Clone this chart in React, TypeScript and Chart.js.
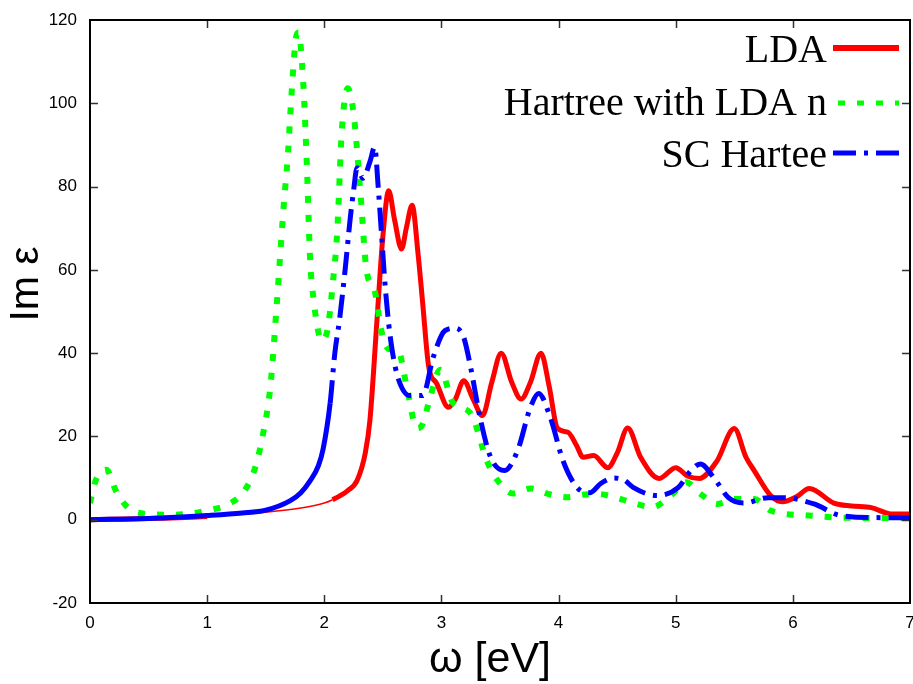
import React, { useEffect, useRef } from 'react';
import { Chart, registerables } from 'chart.js';

Chart.register(...registerables);

// ---- data ----
const ldaX = [0, 0.5, 1.0, 1.5, 1.8, 2.0, 2.07, 2.2, 2.28, 2.35, 2.39, 2.45, 2.5, 2.55, 2.6, 2.66, 2.7, 2.75, 2.8, 2.84, 2.89, 2.96, 3.06, 3.12, 3.19, 3.27, 3.35, 3.43, 3.51, 3.6, 3.68, 3.76, 3.85, 3.92, 3.99, 4.08, 4.15, 4.21, 4.3, 4.42, 4.5, 4.59, 4.7, 4.86, 5.0, 5.1, 5.2, 5.35, 5.5, 5.6, 5.67, 5.81, 5.91, 6.03, 6.14, 6.35, 6.5, 6.67, 6.84, 7.0];
const ldaY = [0, 0.3, 0.8, 1.8, 2.8, 4.0, 4.8, 7.0, 9.4, 16, 24, 48, 68, 79, 72, 65, 70, 75.5, 64, 52, 37, 32.7, 27, 29, 33.4, 29, 25, 33, 40, 33, 29, 33, 40, 32, 22, 21, 18, 15, 15.4, 12.5, 16, 22, 15, 9.9, 12.5, 10.5, 9.9, 14, 21.9, 15, 11.8, 5.8, 4.3, 5.5, 7.5, 4, 3.3, 2.9, 1.4, 1.4];

const hartreeX = [0, 0.05, 0.14, 0.22, 0.32, 0.45, 0.7, 1.0, 1.2, 1.32, 1.41, 1.48, 1.54, 1.59, 1.65, 1.69, 1.72, 1.76, 1.78, 1.82, 1.85, 1.88, 1.91, 1.95, 1.98, 2.03, 2.07, 2.11, 2.15, 2.2, 2.25, 2.31, 2.36, 2.43, 2.49, 2.55, 2.63, 2.71, 2.79, 2.84, 2.9, 2.99, 3.1, 3.25, 3.39, 3.48, 3.61, 3.76, 3.91, 4.07, 4.2, 4.33, 4.48, 4.64, 4.8, 4.96, 5.09, 5.21, 5.36, 5.51, 5.67, 5.81, 6.14, 6.41, 7.0];
const hartreeY = [4, 9.5, 12, 7, 3, 1.5, 1.2, 2.2, 4, 7, 12.5, 21, 32, 50, 74, 88, 102, 116, 117, 105, 86, 62, 52.6, 45, 43, 46, 56, 69, 93.5, 103.6, 97.6, 78, 60, 55, 45, 41, 40.6, 31, 22, 23, 29, 36, 28, 25.5, 14, 9.4, 6.3, 7.5, 6.2, 5.4, 6, 6.2, 5.4, 4, 3, 5.8, 9, 6.2, 3.8, 5, 5, 2.2, 1, 0.5, 0.4];

const scX = [0, 0.5, 1.0, 1.3, 1.5, 1.71, 1.8, 1.88, 1.95, 1.99, 2.05, 2.09, 2.13, 2.18, 2.22, 2.25, 2.28, 2.33, 2.39, 2.43, 2.46, 2.49, 2.52, 2.55, 2.58, 2.63, 2.73, 2.84, 2.93, 3.03, 3.12, 3.19, 3.25, 3.33, 3.42, 3.54, 3.65, 3.76, 3.83, 3.93, 4.04, 4.16, 4.27, 4.36, 4.47, 4.56, 4.64, 4.84, 5.02, 5.13, 5.21, 5.33, 5.45, 5.58, 5.79, 5.92, 6.18, 6.41, 6.78, 7.0];
const scY = [0, 0.3, 1, 1.6, 2.3, 4.6, 6.5, 9.4, 13, 17, 28, 40, 48, 60.6, 72, 79, 84.5, 82, 86, 89.5, 80, 68, 56, 47, 40.6, 34, 29.8, 29.8, 39, 45.4, 46, 43.8, 36.5, 24.5, 15, 11.8, 16.6, 27, 30.3, 24.5, 14, 7.7, 6.5, 8.7, 10, 9.5, 7.7, 5.8, 7.7, 11.8, 13.4, 9.9, 5.3, 4, 5.3, 5.3, 3.8, 1, 0.5, 0.5];

const seriesNames = ['LDA', 'Hartree with LDA n', 'SC Hartee'];
const xTitle = 'ω [eV]';
const yTitle = 'Im ε';
const xMin = 0, xMax = 7, xStep = 1;
const yMin = -20, yMax = 120, yStep = 20;

const RED = '#ff0000';
const GREEN = '#00ff00';
const BLUE = '#0000ff';
const BLUE_DASH = [23, 8, 4, 8];
const GREEN_DASH = [7, 12];

const toPoints = (xs: number[], ys: number[]) => xs.map((x, i) => ({ x, y: ys[i] }));

const framePlugin = {
  id: 'frameAndExtras',
  afterDraw(chart: any) {
    const { ctx, chartArea } = chart;
    const { left, right, top, bottom } = chartArea;
    const xs = chart.scales.x;
    const ys = chart.scales.y;
    ctx.save();
    // inward ticks
    ctx.strokeStyle = '#333';
    ctx.lineWidth = 1.5;
    const tl = 8;
    ctx.beginPath();
    for (let v = xMin + xStep; v < xMax; v += xStep) {
      const px = Math.round(xs.getPixelForValue(v)) + 0.5;
      ctx.moveTo(px, bottom); ctx.lineTo(px, bottom - tl);
      ctx.moveTo(px, top); ctx.lineTo(px, top + tl);
    }
    for (let v = yMin + yStep; v < yMax; v += yStep) {
      const py = Math.round(ys.getPixelForValue(v)) + 0.5;
      ctx.moveTo(left, py); ctx.lineTo(left + tl, py);
      ctx.moveTo(right, py); ctx.lineTo(right - tl, py);
    }
    ctx.stroke();
    // frame
    ctx.strokeStyle = '#000';
    ctx.lineWidth = 2;
    ctx.strokeRect(left, top, right - left, bottom - top);

    // axis titles
    ctx.fillStyle = '#000';
    ctx.font = '43px "Liberation Sans", Arial, sans-serif';
    ctx.textAlign = 'center';
    ctx.textBaseline = 'middle';
    ctx.fillText(xTitle, 490, 660);
    ctx.save();
    ctx.translate(27, 284);
    ctx.rotate(-Math.PI / 2);
    ctx.font = '41px "Liberation Sans", Arial, sans-serif';
    ctx.fillText(yTitle, 0, 0);
    ctx.restore();

    // legend (text right-aligned, sample line on the right)
    const colors = [RED, GREEN, BLUE];
    const dashes = [[], GREEN_DASH, BLUE_DASH];
    const baselines = [62, 115, 167];
    const lineYs = [48, 103, 153];
    ctx.font = '40px "Liberation Serif", "Times New Roman", serif';
    ctx.textAlign = 'right';
    ctx.textBaseline = 'alphabetic';
    seriesNames.forEach((name, i) => {
      ctx.fillStyle = '#000';
      ctx.fillText(name, 827, baselines[i]);
      ctx.beginPath();
      ctx.strokeStyle = colors[i];
      ctx.lineWidth = i === 0 ? 6 : 5;
      ctx.lineCap = 'butt';
      ctx.setLineDash(dashes[i]);
      ctx.moveTo(i === 1 ? 838 : 833, lineYs[i]);
      ctx.lineTo(899, lineYs[i]);
      ctx.stroke();
    });
    ctx.setLineDash([]);
    ctx.restore();
  },
};

export default function App() {
  const canvasRef = useRef<HTMLCanvasElement | null>(null);

  useEffect(() => {
    const canvas = canvasRef.current;
    if (!canvas) return;
    const chart = new Chart(canvas, {
      type: 'line',
      data: {
        datasets: [
          {
            label: seriesNames[0],
            data: toPoints(ldaX, ldaY),
            borderColor: RED,
            borderWidth: 5,
            pointRadius: 0,
            fill: false,
            cubicInterpolationMode: 'monotone',
            order: 3,
            segment: {
              borderWidth: (c: any) => (c.p0.parsed.x >= 1 && c.p1.parsed.x <= 2.07 ? 1.5 : 5),
            },
          },
          {
            label: seriesNames[1],
            data: toPoints(hartreeX, hartreeY),
            borderColor: GREEN,
            borderWidth: 6,
            borderDash: GREEN_DASH,
            borderCapStyle: 'butt',
            pointRadius: 0,
            fill: false,
            cubicInterpolationMode: 'monotone',
            order: 2,
          },
          {
            label: seriesNames[2],
            data: toPoints(scX, scY),
            borderColor: BLUE,
            borderWidth: 5,
            pointRadius: 0,
            fill: false,
            cubicInterpolationMode: 'monotone',
            order: 1,
            segment: {
              borderDash: (c: any) => (c.p1.parsed.x <= 2.05 ? [] : BLUE_DASH),
            },
          },
        ],
      },
      options: {
        responsive: false,
        animation: false,
        events: [],
        layout: { padding: { left: 0, top: 20, right: 3, bottom: 0 } },
        plugins: {
          legend: { display: false },
          tooltip: { enabled: false },
        },
        scales: {
          x: {
            type: 'linear',
            min: xMin,
            max: xMax,
            ticks: {
              stepSize: xStep,
              autoSkip: false,
              maxRotation: 0,
              padding: 10,
              color: '#000',
              font: { family: '"Liberation Sans", Arial, sans-serif', size: 17 },
            },
            grid: { display: false, drawTicks: false },
            border: { display: false },
            afterFit: (s: any) => {
              s.height = 81;
              s.paddingLeft = 0;
              s.paddingRight = 0;
            },
          },
          y: {
            type: 'linear',
            min: yMin,
            max: yMax,
            ticks: {
              stepSize: yStep,
              padding: 13,
              color: '#000',
              font: { family: '"Liberation Sans", Arial, sans-serif', size: 17 },
            },
            grid: { display: false, drawTicks: false },
            border: { display: false },
            afterFit: (s: any) => {
              s.width = 90;
              s.paddingTop = 0;
              s.paddingBottom = 0;
            },
          },
        },
      },
      plugins: [framePlugin],
    });
    return () => chart.destroy();
  }, []);

  return (
    <div style={{ position: 'absolute', left: 0, top: 0, width: 913, height: 684, background: '#fff' }}>
      <canvas ref={canvasRef} width={913} height={684} />
    </div>
  );
}
